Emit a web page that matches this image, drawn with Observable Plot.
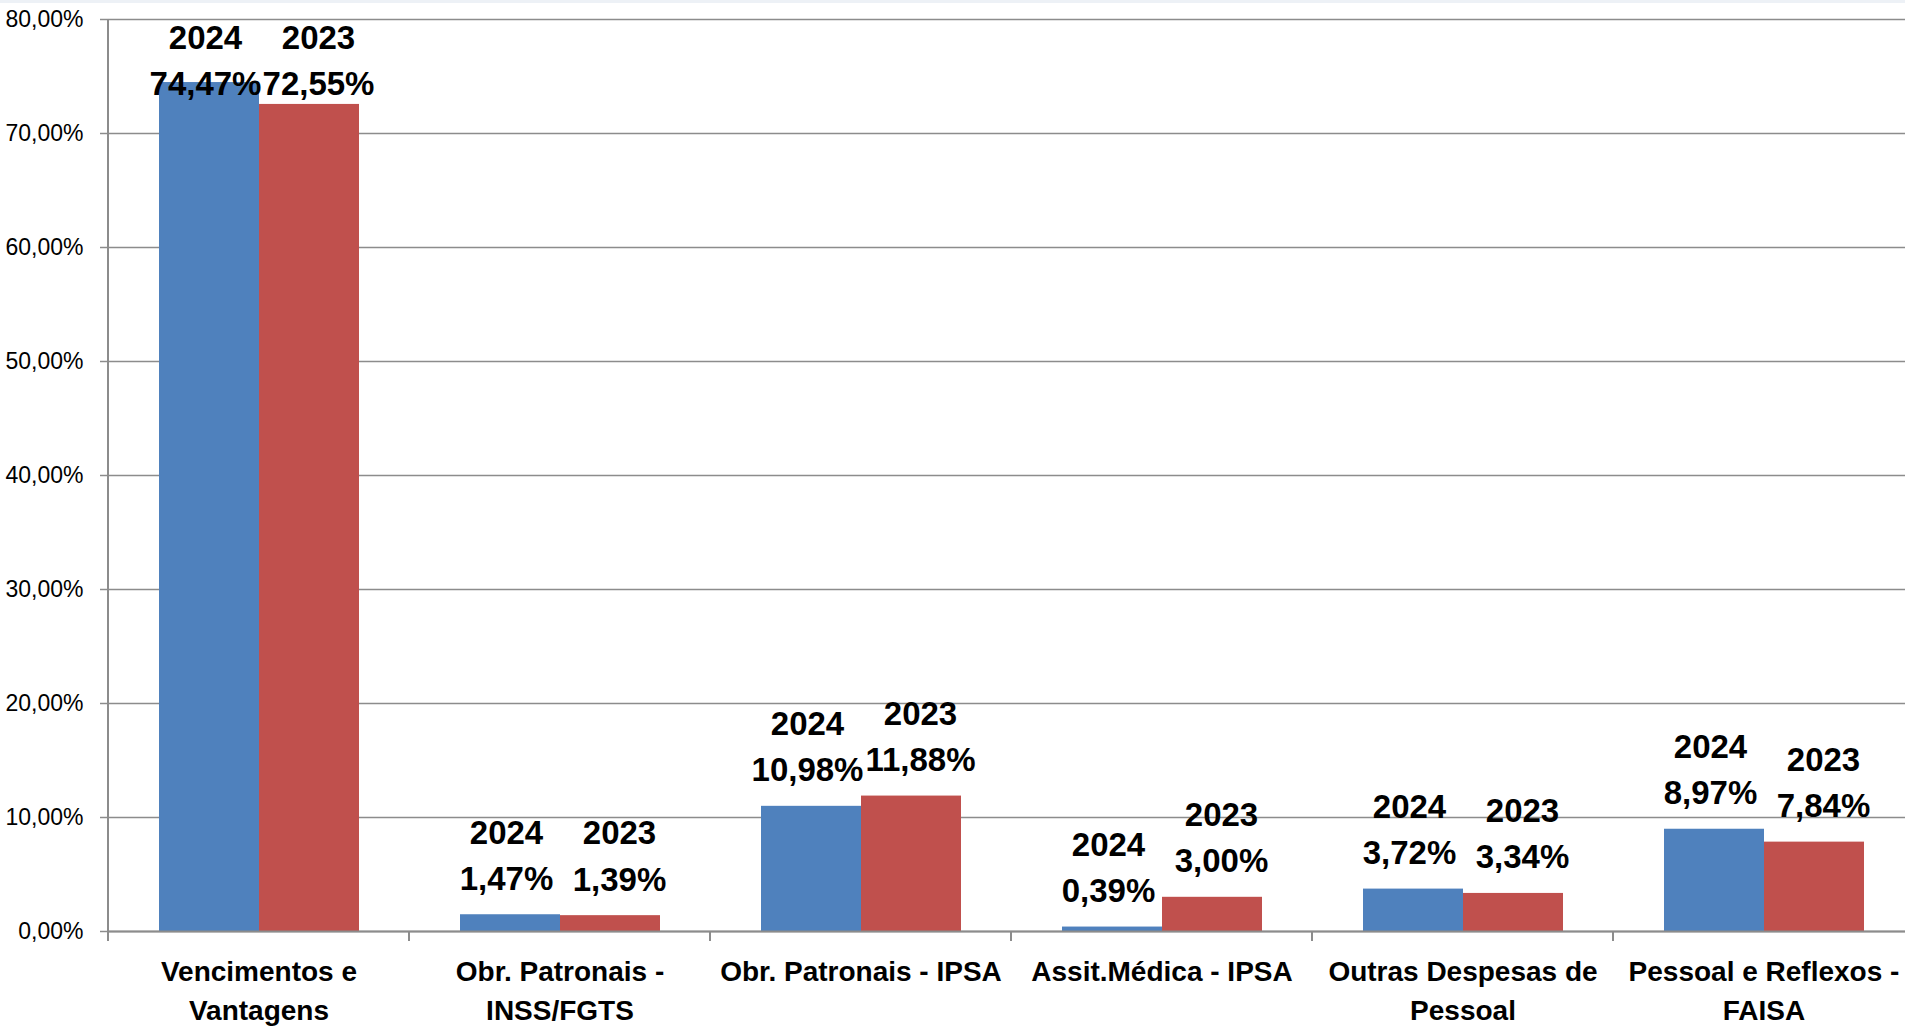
<!DOCTYPE html>
<html><head><meta charset="utf-8">
<script src="https://cdn.jsdelivr.net/npm/d3@7"></script>
<script src="https://cdn.jsdelivr.net/npm/@observablehq/plot@0.6"></script>
<style>
html,body{margin:0;padding:0;background:#fff;}
#chart{position:relative;}
#chart svg{display:block;}
#topband{position:absolute;left:0;top:0;width:100%;height:3px;background:#edf1f6;}
</style></head><body><div id="chart"><div id="topband"></div></div>
<script>
const categories = ["Vencimentos e\nVantagens", "Obr. Patronais -\nINSS/FGTS", "Obr. Patronais - IPSA", "Assit.Médica - IPSA", "Outras Despesas de\nPessoal", "Pessoal e Reflexos -\nFAISA"];
const years = ["2024", "2023"];
const values2024 = [74.47, 1.47, 10.98, 0.39, 3.72, 8.97];
const values2023 = [72.55, 1.39, 11.88, 3.00, 3.34, 7.84];
const yTicks = [0, 10, 20, 30, 40, 50, 60, 70, 80];
const colors = ["#4F81BD", "#C0504D"];

const data = categories.flatMap((c, i) => [
  {category: c, year: years[0], value: values2024[i]},
  {category: c, year: years[1], value: values2023[i]}
]);
const fmt = v => v.toFixed(2).replace(".", ",") + "%";
const gray = "#8c8c8c";
const labelCap = 71.2;
const font = "'Liberation Sans', Arial, sans-serif";

const labelOpts = (yr, dx) => ({
  filter: d => d.year === yr,
  fx: "category", x: "year", y: d => Math.min(d.value, labelCap),
  text: d => d.year + "\n" + fmt(d.value),
  lineAnchor: "bottom", dy: -25, dx, lineHeight: 1.4,
  fontSize: 33, fontWeight: "bold", fill: "black"
});

const plot = Plot.plot({
  width: 1905, height: 1026,
  marginLeft: 108, marginRight: -9, marginTop: 19, marginBottom: 95,
  style: {background: "#fff", fontFamily: font},
  fx: {domain: categories, padding: 0},
  x: {domain: years, paddingInner: 0, paddingOuter: 0.5, axis: null},
  y: {domain: [0, 80], axis: null},
  color: {domain: years, range: colors},
  marks: [
    Plot.gridY(yTicks, {stroke: gray, strokeOpacity: 1, strokeWidth: 1.5}),
    Plot.barY(data, {fx: "category", x: "year", y: "value", fill: "year"}),
    Plot.ruleY([0], {stroke: gray, strokeWidth: 2}),
    Plot.axisY(yTicks, {tickSize: 8, tickPadding: 17, stroke: gray, strokeWidth: 1.5, fill: "black", fontSize: 23, tickFormat: fmt, label: null}),
    Plot.axisFx({anchor: "bottom", tickSize: 0, tickPadding: 21, fontSize: 28, fontWeight: "bold", lineHeight: 1.42, label: null, fill: "black"}),
    Plot.text(data, labelOpts(years[0], -4)),
    Plot.text(data, labelOpts(years[1], 9))
  ]
});

const fx = plot.scale("fx");
const y = plot.scale("y");
const y0 = y.apply(0), yTop = y.apply(80);
const bw = fx.bandwidth;
const edges = categories.map(c => fx.apply(c)).concat([fx.apply(categories[categories.length - 1]) + bw]);
const g = d3.select(plot).append("g").attr("stroke", gray).attr("stroke-width", 2);
g.selectAll("line.b").data(edges).join("line")
  .attr("x1", d => d).attr("x2", d => d).attr("y1", y0).attr("y2", y0 + 10);
g.append("line").attr("x1", edges[0]).attr("x2", edges[0]).attr("y1", yTop).attr("y2", y0 + 10);

document.getElementById("chart").appendChild(plot);
</script></body></html>
